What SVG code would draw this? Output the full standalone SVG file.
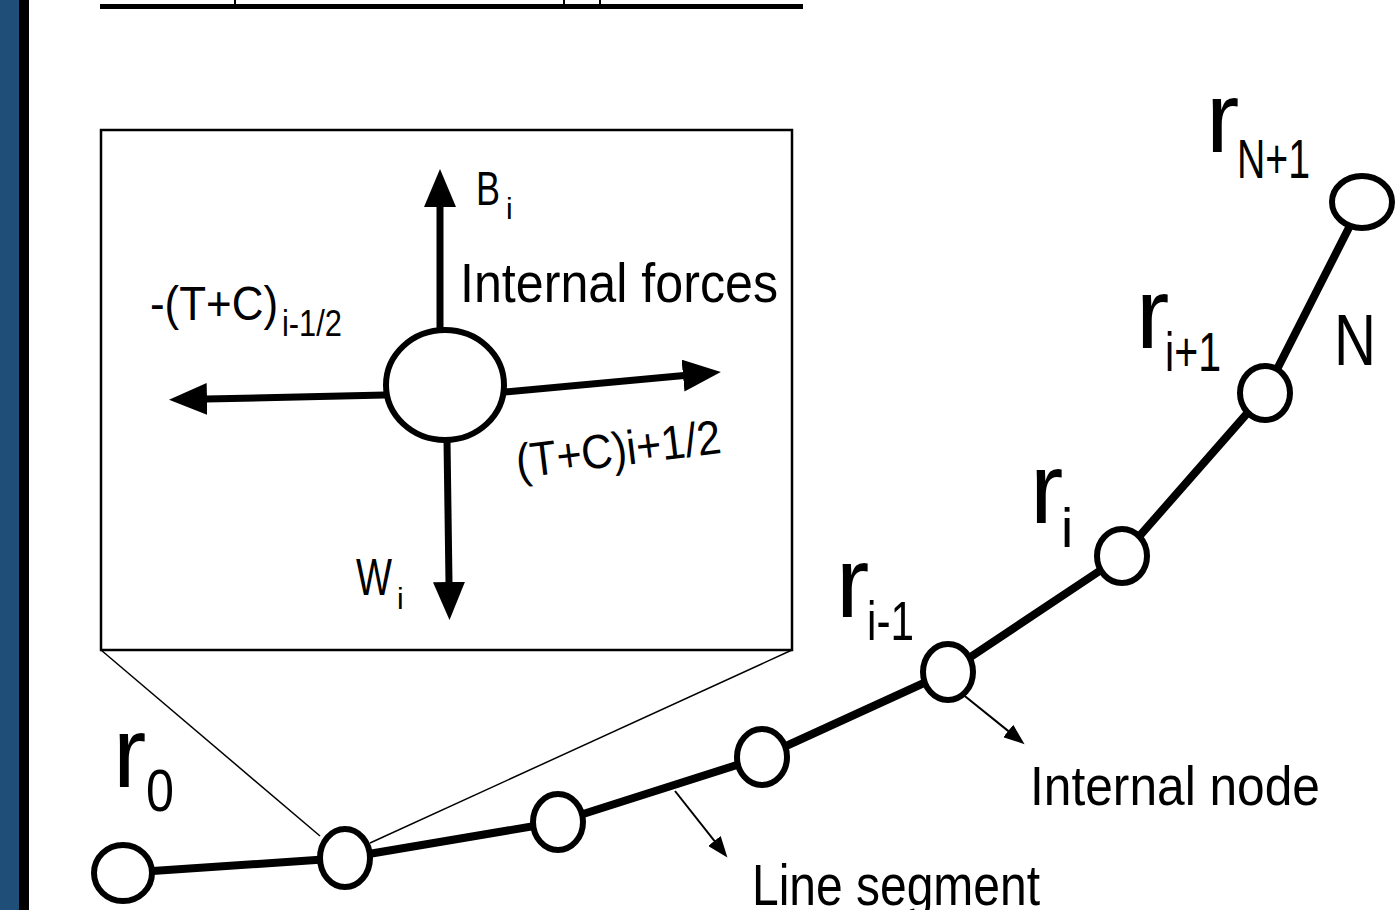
<svg xmlns="http://www.w3.org/2000/svg" width="1400" height="910" viewBox="0 0 1400 910">
  <style>
    text { font-family: "Liberation Sans Narrow", "Liberation Sans", "DejaVu Sans", sans-serif; fill: #000; }
    .node { fill: #fff; stroke: #000; stroke-width: 6; }
    .big { stroke: #000; stroke-width: 7; fill: none; }
    .thin { stroke: #000; stroke-width: 1.5; fill: none; }
    .chain { stroke: #000; stroke-width: 8; fill: none; stroke-linejoin: round; }
    .small { stroke: #000; stroke-width: 2; fill: none; }
  </style>
  <defs>
    <marker id="head" markerUnits="userSpaceOnUse" markerWidth="40" markerHeight="32" viewBox="0 0 40 32" refX="1" refY="16" orient="auto">
      <path d="M0,0 L38,16 L0,32 z" fill="#000"/>
    </marker>
    <marker id="headS" markerUnits="userSpaceOnUse" markerWidth="22" markerHeight="16" viewBox="0 0 22 16" refX="1" refY="8" orient="auto">
      <path d="M0,0 L21,8 L0,16 z" fill="#000"/>
    </marker>
  </defs>
  <rect width="1400" height="910" fill="#fff"/>

  <!-- left bar -->
  <g id="sidebar">
    <rect x="0" y="0" width="19" height="910" fill="#1f4e79"/>
    <rect x="19" y="0" width="10" height="910" fill="#000"/>
  </g>

  <!-- top underline (title cut off) -->
  <g id="title-underline">
    <rect x="100" y="4" width="703" height="5" fill="#000"/>
    <rect x="234" y="0" width="2" height="5" fill="#000"/>
    <rect x="563" y="0" width="2" height="5" fill="#000"/>
    <rect x="599" y="0" width="2" height="5" fill="#000"/>
  </g>

  <!-- inset box -->
  <g id="inset">
    <rect x="101" y="130" width="691" height="520" fill="#fff" stroke="#000" stroke-width="2.5"/>
  </g>

  <g id="connectors">
    <!-- zoom lines -->
    <line class="thin" x1="101" y1="650" x2="320" y2="836"/>
    <line class="thin" x1="792" y1="650" x2="370" y2="843"/>
    <!-- chain -->
    <polyline class="chain" points="123,873 345,858 558,822 762,757 948,672 1122,556 1265,393 1362,202"/>
    <!-- force arrows -->
    <line class="big" x1="440" y1="330" x2="440" y2="206" marker-end="url(#head)"/>
    <line class="big" x1="447" y1="440" x2="449" y2="583" marker-end="url(#head)"/>
    <line class="big" x1="385" y1="395" x2="206" y2="399" marker-end="url(#head)"/>
    <line class="big" x1="505" y1="392" x2="684" y2="375.5" marker-end="url(#head)"/>
    <!-- pointer arrows -->
    <line class="small" x1="961" y1="693" x2="1009" y2="731.6" marker-end="url(#headS)"/>
    <line class="small" x1="675" y1="791" x2="715" y2="841.7" marker-end="url(#headS)"/>
  </g>

  <!-- inset node -->
  <g id="inset-node">
    <ellipse class="node" cx="445" cy="385" rx="59" ry="55"/>
  </g>

  <!-- chain nodes -->
  <g id="node-r0"><ellipse class="node" cx="123" cy="873" rx="29" ry="28"/></g>
  <g id="node-2"><ellipse class="node" cx="345" cy="858" rx="25" ry="29"/></g>
  <g id="node-3"><ellipse class="node" cx="558" cy="822" rx="25" ry="28"/></g>
  <g id="node-4"><ellipse class="node" cx="762" cy="757" rx="25" ry="28"/></g>
  <g id="node-ri-1"><ellipse class="node" cx="948" cy="672" rx="25" ry="28"/></g>
  <g id="node-ri"><ellipse class="node" cx="1122" cy="556" rx="25" ry="27"/></g>
  <g id="node-ri+1"><ellipse class="node" cx="1265" cy="393" rx="25" ry="27"/></g>
  <g id="node-rN+1"><ellipse class="node" cx="1362" cy="202" rx="30" ry="26"/></g>

  <!-- inset labels -->
  <g id="labels-inset">
    <text x="476" y="205" font-size="48" textLength="24" lengthAdjust="spacingAndGlyphs">B</text>
    <text x="506" y="219" font-size="30">i</text>
    <text x="460" y="302" font-size="55" textLength="318" lengthAdjust="spacingAndGlyphs">Internal forces</text>
    <text x="150" y="320" font-size="48" textLength="128" lengthAdjust="spacingAndGlyphs">-(T+C)</text>
    <text x="282" y="336" font-size="36" textLength="60" lengthAdjust="spacingAndGlyphs">i-1/2</text>
    <text x="518" y="478" font-size="48" textLength="206" lengthAdjust="spacingAndGlyphs" transform="rotate(-7 518 478)">(T+C)i+1/2</text>
    <text x="356" y="595" font-size="52" textLength="36" lengthAdjust="spacingAndGlyphs">W</text>
    <text x="397" y="609" font-size="30">i</text>
  </g>

  <!-- chain labels -->
  <g id="labels-chain">
    <text x="1206" y="152" font-size="100">r</text>
    <text x="1237" y="178" font-size="55" textLength="73" lengthAdjust="spacingAndGlyphs">N+1</text>
    <text x="1136" y="348" font-size="100">r</text>
    <text x="1165" y="371" font-size="55" textLength="56" lengthAdjust="spacingAndGlyphs">i+1</text>
    <text x="1334" y="365" font-size="72" textLength="42" lengthAdjust="spacingAndGlyphs">N</text>
    <text x="1030" y="523" font-size="100">r</text>
    <text x="1061" y="547" font-size="55">i</text>
    <text x="836" y="617" font-size="100">r</text>
    <text x="867" y="640" font-size="55" textLength="47" lengthAdjust="spacingAndGlyphs">i-1</text>
    <text x="113" y="787" font-size="100">r</text>
    <text x="146" y="811" font-size="60" textLength="28" lengthAdjust="spacingAndGlyphs">0</text>
    <text x="1030" y="805" font-size="56" textLength="290" lengthAdjust="spacingAndGlyphs">Internal node</text>
    <text x="752" y="905" font-size="58" textLength="288" lengthAdjust="spacingAndGlyphs">Line segment</text>
  </g>
</svg>
